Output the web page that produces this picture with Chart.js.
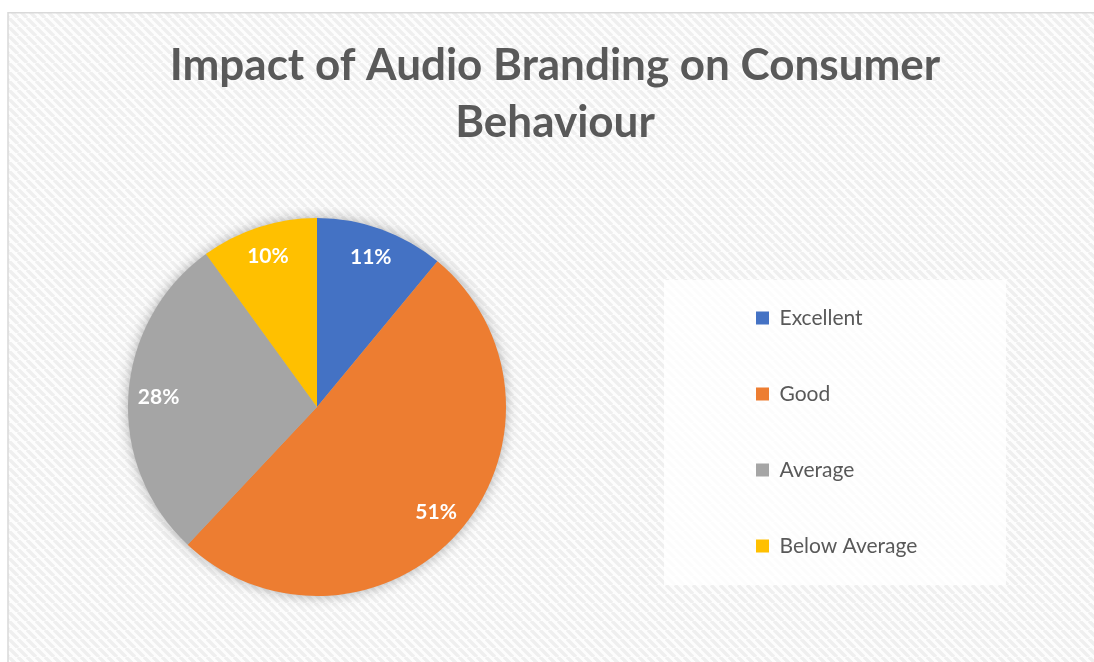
<!DOCTYPE html>
<html>
<head>
<meta charset="utf-8">
<script src="https://cdn.jsdelivr.net/npm/chart.js@4.4.1/dist/chart.umd.min.js"></script>
<style>
  html, body { margin: 0; padding: 0; background: #fff; overflow: hidden; }
  canvas { display: block; }
</style>
</head>
<body>
<canvas id="chart" width="1094" height="662"></canvas>
<script>
// Survey answers and their share of respondents (%)
const categories = ['Excellent', 'Good', 'Average', 'Below Average'];
const shares = [11, 51, 28, 10];
const sliceColors = ['#4472C4', '#ED7D31', '#A5A5A5', '#FFC000'];
const titleLines = ['Impact of Audio Branding on Consumer', 'Behaviour'];

const TEXT_COLOR = '#595959';
const FONT_FAMILY = 'Lato, "Open Sans", sans-serif';

// Geometry of the drawing
const FRAME = { x: 8, y: 12.75 };
const PIE = { cx: 317, cy: 407, r: 189 };
const LEGEND_BOX = { x: 664, y: 280, w: 342, h: 305 };
const LEGEND_PAD = 55;
const LEGEND_LEFT = 756 - LEGEND_PAD;
const LEGEND_TOP = 250;
const LEGEND_HEIGHT = 364;

// Diagonal hatch used as the chart background
function hatchPattern(ctx) {
  const p = 9;
  const tile = document.createElement('canvas');
  tile.width = p;
  tile.height = p;
  const t = tile.getContext('2d');
  t.fillStyle = '#fdfdfd';
  t.fillRect(0, 0, p, p);
  t.strokeStyle = '#efefef';
  t.lineWidth = 3.5;
  t.beginPath();
  for (const k of [-p, 0, p]) {
    t.moveTo(k, 0);
    t.lineTo(k + p, p);
  }
  t.stroke();
  return ctx.createPattern(tile, 'repeat');
}

const backdrop = {
  id: 'backdrop',
  beforeDraw(chart) {
    const { ctx, width, height } = chart;
    ctx.save();
    ctx.fillStyle = '#ffffff';
    ctx.fillRect(0, 0, width, height);
    ctx.fillStyle = hatchPattern(ctx);
    ctx.fillRect(FRAME.x, FRAME.y, width - FRAME.x, height - FRAME.y);
    ctx.strokeStyle = '#d9d9d9';
    ctx.lineWidth = 1.5;
    ctx.beginPath();
    ctx.moveTo(FRAME.x, height);
    ctx.lineTo(FRAME.x, FRAME.y);
    ctx.lineTo(width, FRAME.y);
    ctx.stroke();
    // panel behind the legend
    ctx.fillStyle = 'rgba(255,255,255,0.82)';
    ctx.fillRect(LEGEND_BOX.x, LEGEND_BOX.y, LEGEND_BOX.w, LEGEND_BOX.h);
    ctx.restore();
  }
};

// Pie sits left of centre, legend in its panel on the right
const placement = {
  id: 'placement',
  afterLayout(chart) {
    const r = PIE.r;
    Object.assign(chart.chartArea, {
      left: PIE.cx - r, right: PIE.cx + r,
      top: PIE.cy - r, bottom: PIE.cy + r,
      width: 2 * r, height: 2 * r
    });
    const lg = chart.legend;
    const w = lg.width;
    lg.left = LEGEND_LEFT;
    lg.right = LEGEND_LEFT + w;
    lg.top = LEGEND_TOP;
    lg.bottom = LEGEND_TOP + LEGEND_HEIGHT;
    lg.height = LEGEND_HEIGHT;
  }
};

// Soft shadow around the whole pie
const pieShadow = {
  id: 'pieShadow',
  beforeDatasetsDraw(chart) {
    const arc = chart.getDatasetMeta(0).data[0];
    if (!arc) return;
    const { x, y, outerRadius } = arc.getProps(['x', 'y', 'outerRadius'], true);
    const ctx = chart.ctx;
    ctx.save();
    ctx.shadowColor = 'rgba(0,0,0,0.35)';
    ctx.shadowBlur = 14;
    ctx.fillStyle = '#b0b0b0';
    ctx.beginPath();
    ctx.arc(x, y, outerRadius - 1, 0, Math.PI * 2);
    ctx.fill();
    ctx.restore();
  }
};

// Percentage labels inside each slice
const sliceLabels = {
  id: 'sliceLabels',
  afterDatasetsDraw(chart) {
    const ctx = chart.ctx;
    const values = chart.data.datasets[0].data;
    ctx.save();
    ctx.font = 'bold 21px ' + FONT_FAMILY;
    ctx.fillStyle = '#ffffff';
    ctx.textAlign = 'center';
    ctx.textBaseline = 'middle';
    chart.getDatasetMeta(0).data.forEach((arc, i) => {
      const { x, y, startAngle, endAngle, outerRadius } =
        arc.getProps(['x', 'y', 'startAngle', 'endAngle', 'outerRadius'], true);
      const mid = (startAngle + endAngle) / 2;
      const rr = outerRadius * 0.84;
      ctx.fillText(values[i] + '%', x + Math.cos(mid) * rr, y + Math.sin(mid) * rr);
    });
    ctx.restore();
  }
};

new Chart(document.getElementById('chart'), {
  type: 'pie',
  data: {
    labels: categories,
    datasets: [{
      data: shares,
      backgroundColor: sliceColors,
      borderWidth: 0,
      clip: false
    }]
  },
  options: {
    responsive: false,
    animation: false,
    devicePixelRatio: 1,
    layout: { padding: { left: 16, right: 0, top: 0, bottom: 66 } },
    plugins: {
      title: {
        display: true,
        text: titleLines,
        color: TEXT_COLOR,
        font: { family: FONT_FAMILY, size: 44, weight: 'bold', lineHeight: 1.3 },
        padding: { top: 37, bottom: 10 }
      },
      legend: {
        position: 'right',
        onClick: null,
        labels: {
          color: TEXT_COLOR,
          font: { family: FONT_FAMILY, size: 21 },
          boxWidth: 13,
          boxHeight: 13,
          padding: LEGEND_PAD
        }
      },
      tooltip: { enabled: false }
    }
  },
  plugins: [backdrop, placement, pieShadow, sliceLabels]
});
</script>
</body>
</html>
